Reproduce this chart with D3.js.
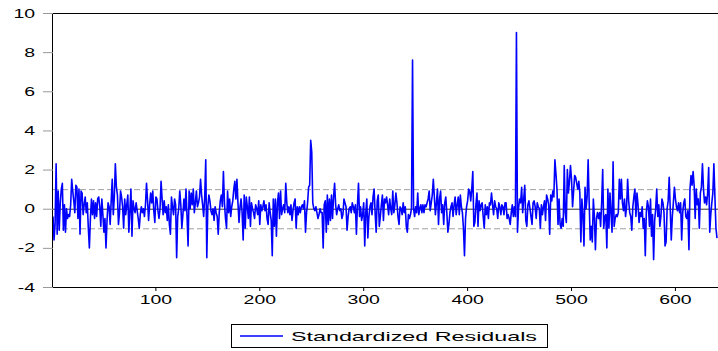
<!DOCTYPE html>
<html>
<head>
<meta charset="utf-8">
<script src="https://cdn.jsdelivr.net/npm/d3@7/dist/d3.min.js"></script>
<style>
  html, body { margin: 0; padding: 0; background: #fff; }
  svg { display: block; }
  text { font-family: "Liberation Sans", Arial, sans-serif; fill: #000; }
</style>
</head>
<body>
<div id="chart"></div>
<script>
const seg1 = [-0.4, -1.6, -0.8, 2.3, -1.3, 0.9, -1.1, 0.3, 1.0, 1.3, -1.1, 0.2, -1.2, 0.0, -0.5, -0.3, -0.4, 0.2, 1.5, 0.9,
  0.4, -0.2, 1.2, 1.1, -0.5, 1.0, -1.3, 0.9, 0.8, -0.3, 0.2, 0.6, -0.2, 0.3, -1.0, -2.0, -0.5, 0.5, -0.3, 0.4,
  -0.5, 0.3, -0.4, 0.5];
const seg2 = [0.6, 0.1, -0.9, 0.5, -0.3, -1.2, -0.5, -2.0, -0.6, 0.3, 0.1, -0.8, 0.4, 1.5, -0.3, 0.6, 2.3, 1.1, 0.7, -0.8,
  -0.2, 0.9, 0.6, 0.1, -1.0, 0.5, -0.3, 0.2, 0.7, -1.2, -0.1, 1.0, -1.4, 0.4, 0.0, -0.2, 0.3, -0.1, -0.5, -1.0,
  -0.3, 0.1, -0.2, 0.0, -0.4, 0.2, 1.3, 0.4, -0.6, 0.2, 0.8, 0.3, 0.9, -0.1, -0.7, 0.6];
const seg3 = [0.5, -0.1, -0.5, 0.0, 1.4, 0.5, -0.3, 0.4, -0.2, 0.1, -0.6, 0.2, -0.8, -1.3, 0.6, 0.1, -0.3, 0.5, 0.2, -2.5,
  -0.4, 0.0, 0.9, 0.2, -1.0, -0.3, 0.5, -0.1, 1.0, -0.4, -1.9, 0.9, 0.0, 0.8, 0.2, 1.0, -0.2, 0.3, 0.9, 0.1,
  0.3, 0.6, 1.5, 0.7, 0.2, -0.4, 0.6, 2.5, -2.5, 0.1, 0.7, 0.4, -0.1, -0.3, 0.0, -0.6];
const seg4 = [0.1, -0.2, -0.4, -1.3, -0.2, 0.4, 0.7, 0.1, 1.9, 0.3, -0.5, -1.0, 0.9, -0.2, 0.5, -0.4, 0.1, 0.4, 1.0, 1.4,
  0.5, 1.5, 0.3, -0.7, 0.1, 0.5, -0.2, -1.6, 0.7, -1.0, 0.6, 0.1, -0.5, 0.6, -0.9, 0.3, 0.0, -0.2, -0.5, 0.2,
  0.0, -0.3, 0.4, -0.8, 0.2, -0.1, 0.1, 0.4, -0.1, 0.2, -0.5, -0.8, 0.3, -0.2, -0.6, -2.4];
const seg5 = [0.5, -0.9, 0.5, -1.4, 0.3, 0.8, -0.5, 0.9, -0.3, 0.0, 0.2, -0.2, 1.3, 0.3, -0.2, 0.1, -0.3, 0.2, -0.6, -0.1,
  0.3, 0.5, -1.0, 0.1, -0.3, 0.1, -0.2, 0.1, 0.2, 0.0, 0.4, -1.2, -0.2, 0.3, 1.1, 1.2, 3.5, 2.9, 0.3, 0.0,
  -0.1, 0.1, -0.2, -0.5, -0.3, 0.0, -0.2, -0.2, -2.0, 0.2, 0.4, -1.2, 0.7, -0.8, 0.5, -0.6];
const seg6 = [0.7, -0.5, 0.6, 1.3, 0.2, -0.3, 0.0, 0.2, -0.1, 0.0, -0.5, -0.3, 0.5, 0.3, 0.1, -1.1, -0.4, 0.0, 0.1, -0.2,
  0.3, 0.1, -0.2, 0.2, -1.3, 0.2, 1.3, -0.4, 0.1, -0.6, -0.3, 0.3, -1.9, -0.2, 0.5, -1.5, -0.4, 0.1, 0.3, -0.3,
  0.6, 1.0, -0.2, -1.2, 0.4, 0.7, -0.9, -0.4, 0.2, 0.7, -0.6, 0.5, 0.3, 0.6, 0.2, -0.3];
const seg7 = [0.5, 0.0, -0.3, 0.9, -0.2, 0.2, 0.8, 0.3, -0.4, -0.8, 0.1, 0.0, -0.3, 0.3, -0.2, 0.1, -0.9, -1.2, -0.3, -0.5,
  -0.3, 0.0, 7.6, 0.0, -0.4, 0.1, -0.2, 0.8, -0.3, 0.0, 0.2, -0.2, 0.2, -0.2, 0.2, 0.1, 0.3, 0.5, 0.9, -0.1,
  0.3, 0.7, 1.5, 0.6, -0.3, 0.3, 1.0, -0.8, 0.5, 0.9, -0.2, 0.2, -0.8, 0.3, 0.6, -0.2];
const seg8 = [-1.2, -0.8, -0.2, 0.1, 0.3, -0.4, 0.2, 0.6, -0.3, 0.2, 0.6, -0.3, 0.7, 0.1, -0.2, -1.0, -2.4, -0.5, 0.1, 0.4,
  1.0, 0.9, 0.4, 1.0, 1.9, -0.9, -0.7, 0.2, 0.8, -0.9, 0.4, -0.1, 0.2, 0.3, -0.4, -1.0, 0.2, -0.3, 0.1, -0.5,
  0.3, 0.2, 0.8, 0.2, -0.3, 0.4, 0.1, 0.0, -0.5, 0.3, 0.1, -0.3, 0.2, 0.1, -0.3, 0.3];
const seg9 = [0.3, -0.5, -0.3, -0.5, -0.8, -0.2, 0.2, -0.4, 0.1, -0.4, 9.0, -1.2, 0.0, 0.5, 0.3, 1.1, -0.2, 0.5, 1.2, -0.6,
  -0.9, 0.2, 0.4, 0.0, -0.4, -0.8, 0.3, 0.4, 0.1, -0.5, 0.3, 0.1, 0.0, -1.0, 0.2, -0.3, 0.1, 0.4, -0.6, 0.7,
  0.5, 0.2, -1.3, 0.7, 0.4, 0.9, 0.6, 2.5, 1.8, 1.0, -0.8, 0.5, -0.8, -1.0, -0.5];
const seg10 = [-0.9, 2.2, -0.2, -0.7, 2.0, 0.8, 1.4, 2.2, 1.5, 0.1, 0.9, 1.7, 1.6, 1.3, 1.0, 1.4, 0.8, -1.7, 0.5, -0.3,
  -1.9, 1.1, 0.0, 0.6, 2.5, 0.3, -1.6, -0.9, -1.7, 0.5, -0.4, -2.1, -0.5, -0.2, -0.5, -0.2, -0.9, 0.3, 2.0, -1.0,
  -0.4, -0.3, -2.0, 1.0, -1.0, 0.8, -0.2, -1.2, 2.4, -0.9, -0.5, -0.3, -0.4, -0.2, 1.5, 0.5];
const seg11 = [1.5, 0.3, -0.1, 0.5, -0.4, 0.1, 1.5, 0.4, -0.2, -0.4, -1.1, 0.1, 0.6, 1.0, -0.4, 0.8, 0.2, -0.7, -0.2, -0.4,
  0.1, -1.0, -0.5, -2.4, -0.2, 0.4, 0.1, -0.9, 0.5, -1.4, -0.3, -2.6, -0.6, 0.0, 1.0, -0.4, 0.2, -0.9, -0.4, 0.5,
  0.3, -0.2, -1.9, -1.7, 0.0, 0.4, 1.6, 0.0, -1.6, -0.4, 0.3, 1.1, 0.5, 0.1, -0.1, 0.3, -0.2, 0.3, -1.6, -0.2,
  0.3, 0.5, -0.4, -0.5, -0.1, -2.1, 1.0, 1.7, 1.2, 1.9, 1.2, -0.5, 1.0, 0.2, 0.5, -1.0, 0.8, 1.1, 2.3, 1.0,
  0.3, 0.6, 0.2, 0.8, 2.1, -1.2, -0.3, 0.3, 0.8, 2.3, 0.6, -1.0, -1.5];

const residuals = [].concat(seg1, seg2, seg3, seg4, seg5, seg6, seg7, seg8, seg9, seg10, seg11);

const yTicks = [-4, -2, 0, 2, 4, 6, 8, 10];
const xTicks = [100, 200, 300, 400, 500, 600];
const bandLines = [-1, 1];
const seriesName = 'Standardized Residuals';

const W = 718, H = 351;
const plot = { left: 53, right: 717, top: 13, bottom: 287 };
const stretch = 1.62; // the source renders its text wide

const svg = d3.select('#chart').append('svg')
  .attr('width', W)
  .attr('height', H);

const x = d3.scaleLinear()
  .domain([1, residuals.length])
  .range([plot.left, plot.right]);

const y = d3.scaleLinear()
  .domain([-4, 10])
  .range([plot.bottom, plot.top]);

// dashed +/-1 band and zero line
svg.selectAll('line.band')
  .data(bandLines)
  .enter().append('line')
  .attr('class', 'band')
  .attr('x1', plot.left).attr('x2', plot.right + 1)
  .attr('y1', d => y(d) + 0.5).attr('y2', d => y(d) + 0.5)
  .attr('stroke', '#a0a0a0')
  .attr('stroke-width', 1)
  .attr('stroke-dasharray', '6,3');

svg.append('line')
  .attr('x1', plot.left).attr('x2', plot.right + 1)
  .attr('y1', y(0) + 0.5).attr('y2', y(0) + 0.5)
  .attr('stroke', '#333')
  .attr('stroke-width', 1);

// series
const line = d3.line()
  .x((d, i) => x(i + 1))
  .y(d => y(d));

svg.append('path')
  .datum(residuals)
  .attr('fill', 'none')
  .attr('stroke', '#0000ff')
  .attr('stroke-width', 1.6)
  .attr('stroke-linejoin', 'round')
  .attr('d', line);

// frame
svg.append('rect')
  .attr('x', plot.left - 0.5)
  .attr('y', plot.top + 0.5)
  .attr('width', plot.right - plot.left + 2)
  .attr('height', plot.bottom - plot.top)
  .attr('fill', 'none')
  .attr('stroke', '#000')
  .attr('stroke-width', 1);

// y axis
const yAxis = svg.append('g');
yAxis.selectAll('line')
  .data(yTicks)
  .enter().append('line')
  .attr('x1', plot.left - 10).attr('x2', plot.left)
  .attr('y1', d => y(d) + 0.5).attr('y2', d => y(d) + 0.5)
  .attr('stroke', '#999')
  .attr('stroke-width', 1);

yAxis.selectAll('text')
  .data(yTicks)
  .enter().append('text')
  .attr('transform', d => `translate(35,${y(d) + 4.5}) scale(${stretch},1)`)
  .attr('text-anchor', 'end')
  .style('font-size', '12px')
  .text(d => d);

// x axis
const xAxis = svg.append('g');
xAxis.selectAll('line')
  .data(xTicks)
  .enter().append('line')
  .attr('x1', d => x(d)).attr('x2', d => x(d))
  .attr('y1', plot.bottom).attr('y2', plot.bottom + 4)
  .attr('stroke', '#000')
  .attr('stroke-width', 1);

xAxis.selectAll('text')
  .data(xTicks)
  .enter().append('text')
  .attr('transform', d => `translate(${x(d)},${plot.bottom + 17}) scale(${stretch},1)`)
  .attr('text-anchor', 'middle')
  .style('font-size', '12px')
  .text(d => d);

// legend
const legend = svg.append('g');
legend.append('rect')
  .attr('x', 231.5).attr('y', 324.5)
  .attr('width', 316).attr('height', 23)
  .attr('fill', '#fff')
  .attr('stroke', '#000');
legend.append('line')
  .attr('x1', 240).attr('x2', 283)
  .attr('y1', 336).attr('y2', 336)
  .attr('stroke', '#0000ff')
  .attr('stroke-width', 1.6);
legend.append('text')
  .attr('x', 291).attr('y', 341)
  .attr('textLength', 246)
  .attr('lengthAdjust', 'spacingAndGlyphs')
  .style('font-size', '13px')
  .text(seriesName);
</script>
</body>
</html>
